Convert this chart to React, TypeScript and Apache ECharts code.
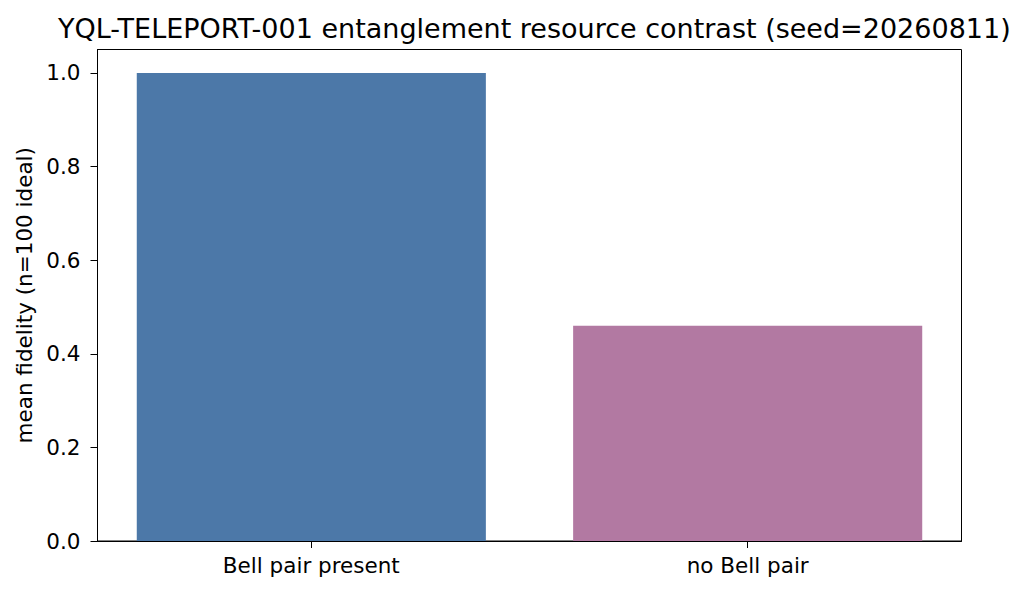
import React, { useEffect, useRef } from "react";
import * as echarts from "echarts";

const categories = ["Bell pair present", "no Bell pair"];
const fidelity = [1.0, 0.46];
const barColors = ["#4c78a8", "#b279a2"];
const yTicks = [0, 0.2, 0.4, 0.6, 0.8, 1.0];
const xTicks = [0, 1];

const FONT = "DejaVu Sans";

export default function App() {
  const ref = useRef<HTMLDivElement>(null);
  useEffect(() => {
    if (!ref.current) return;
    const chart = echarts.init(ref.current, null, { renderer: "svg" });
    chart.setOption({
      animation: false,
      backgroundColor: "#ffffff",
      textStyle: { fontFamily: FONT },
      title: {
        text: "YQL-TELEPORT-001 entanglement resource contrast (seed=20260811)",
        left: 53,
        top: 10,
        textStyle: { fontFamily: FONT, fontSize: 27, fontWeight: "normal", color: "#000" },
      },
      grid: {
        left: 97.5,
        right: 62.5,
        top: 49.5,
        bottom: 54,
        show: true,
        borderColor: "#000",
        borderWidth: 1,
        backgroundColor: "transparent",
      },
      xAxis: {
        type: "value",
        min: -0.49,
        max: 1.49,
        axisLine: { show: true, onZero: false, lineStyle: { color: "#000", width: 1 } },
        axisTick: { show: true, length: 7, lineStyle: { color: "#000" }, customValues: xTicks },
        axisLabel: {
          color: "#000",
          fontSize: 21.5,
          fontFamily: FONT,
          margin: 13,
          customValues: xTicks,
          formatter: (v: number) => categories[Math.round(v)] ?? "",
        },
        splitLine: { show: false },
      },
      yAxis: {
        type: "value",
        min: 0,
        max: 1.05,
        name: "mean fidelity (n=100 ideal)",
        nameLocation: "middle",
        nameGap: 60,
        nameTextStyle: { color: "#000", fontSize: 21.5, fontFamily: FONT },
        axisLine: { show: true, onZero: false, lineStyle: { color: "#000", width: 1 } },
        axisTick: { show: true, length: 7, lineStyle: { color: "#000" }, customValues: yTicks },
        axisLabel: {
          color: "#000",
          fontSize: 21.5,
          fontFamily: FONT,
          margin: 17,
          customValues: yTicks,
          formatter: (v: number) => v.toFixed(1),
        },
        splitLine: { show: false },
      },
      series: [
        {
          type: "bar",
          barWidth: "80%",
          data: fidelity.map((v, i) => ({ value: [i, v], itemStyle: { color: barColors[i] } })),
        },
      ],
    });
    return () => chart.dispose();
  }, []);
  return (
    <div
      ref={ref}
      style={{ position: "fixed", left: 0, top: 0, width: 1024, height: 595 }}
    />
  );
}
